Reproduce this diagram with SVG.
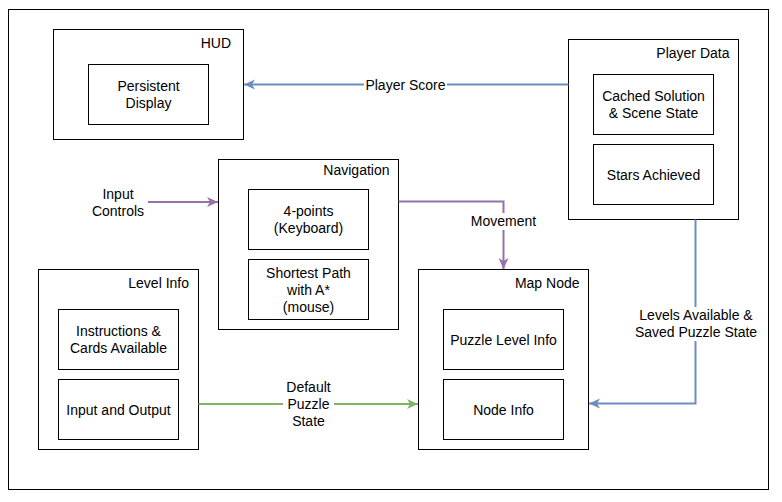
<svg xmlns="http://www.w3.org/2000/svg" width="782" height="502" viewBox="0 0 782 502">
<style>
.box{fill:#fff;stroke:#000;stroke-width:1}
.t{font-family:"Liberation Sans",Arial,sans-serif;font-size:14px;fill:#000}
.c{text-anchor:middle}
.e{text-anchor:end}
.edge{fill:none;stroke-width:2}
.lbl{fill:#fff}
</style>
<defs>
<marker id="ab" markerUnits="userSpaceOnUse" markerWidth="12" markerHeight="12" refX="11" refY="6" orient="auto" viewBox="0 0 12 12"><path d="M0,1 L11,6 L0,11 L3,6 z" fill="#6c8ebf"/></marker>
<marker id="ap" markerUnits="userSpaceOnUse" markerWidth="12" markerHeight="12" refX="11" refY="6" orient="auto" viewBox="0 0 12 12"><path d="M0,1 L11,6 L0,11 L3,6 z" fill="#9673a6"/></marker>
<marker id="ag" markerUnits="userSpaceOnUse" markerWidth="12" markerHeight="12" refX="11" refY="6" orient="auto" viewBox="0 0 12 12"><path d="M0,1 L11,6 L0,11 L3,6 z" fill="#82b366"/></marker>
</defs>
<rect width="782" height="502" fill="#fff"/>
<rect id="frame" class="box" x="8.5" y="9.5" width="760" height="480"/>

<g id="hud">
<rect class="box" x="53.5" y="29.5" width="190" height="110"/>
<text class="t e" x="231" y="47.5">HUD</text>
</g>
<g id="persistent-display">
<rect class="box" x="88.5" y="64.5" width="120" height="60"/>
<text class="t c" x="148.5" y="91">Persistent</text>
<text class="t c" x="148.5" y="108">Display</text>
</g>

<g id="player-data">
<rect class="box" x="568.5" y="39.5" width="170" height="180"/>
<text class="t e" x="729.5" y="57.5">Player Data</text>
</g>
<g id="cached-solution">
<rect class="box" x="593.5" y="74.5" width="120" height="60"/>
<text class="t c" x="653.5" y="101">Cached Solution</text>
<text class="t c" x="653.5" y="118">&amp; Scene State</text>
</g>
<g id="stars-achieved">
<rect class="box" x="593.5" y="144.5" width="120" height="60"/>
<text class="t c" x="653.5" y="179.5">Stars Achieved</text>
</g>

<g id="navigation">
<rect class="box" x="218.5" y="159.5" width="180" height="170"/>
<text class="t e" x="389.5" y="174.5">Navigation</text>
</g>
<g id="four-points">
<rect class="box" x="248.5" y="189.5" width="120" height="60"/>
<text class="t c" x="308.5" y="216">4-points</text>
<text class="t c" x="308.5" y="233">(Keyboard)</text>
</g>
<g id="shortest-path">
<rect class="box" x="248.5" y="259.5" width="120" height="60"/>
<text class="t c" x="308.5" y="277.5">Shortest Path</text>
<text class="t c" x="308.5" y="294.5">with A*</text>
<text class="t c" x="308.5" y="311.5">(mouse)</text>
</g>

<g id="level-info">
<rect class="box" x="38.5" y="269.5" width="160" height="180"/>
<text class="t e" x="189" y="287.5">Level Info</text>
</g>
<g id="instructions">
<rect class="box" x="58.5" y="309.5" width="120" height="60"/>
<text class="t c" x="118.5" y="336">Instructions &amp;</text>
<text class="t c" x="118.5" y="353">Cards Available</text>
</g>
<g id="input-output">
<rect class="box" x="58.5" y="379.5" width="120" height="60"/>
<text class="t c" x="118.5" y="414.5">Input and Output</text>
</g>

<g id="map-node">
<rect class="box" x="418.5" y="269.5" width="170" height="180"/>
<text class="t e" x="579.5" y="287.5">Map Node</text>
</g>
<g id="puzzle-level-info">
<rect class="box" x="443.5" y="309.5" width="120" height="60"/>
<text class="t c" x="503.5" y="344.5">Puzzle Level Info</text>
</g>
<g id="node-info">
<rect class="box" x="443.5" y="379.5" width="120" height="60"/>
<text class="t c" x="503.5" y="414.5">Node Info</text>
</g>

<g id="input-controls">
<text class="t c" x="118" y="198.5">Input</text>
<text class="t c" x="118" y="215.5">Controls</text>
</g>

<g id="connectors">
<path class="edge" stroke="#6c8ebf" d="M568.5,84.5 L244,84.5" marker-end="url(#ab)"/>
<rect class="lbl" x="364" y="76" width="83" height="17"/>
<text class="t c" x="405.5" y="89.5">Player Score</text>

<path class="edge" stroke="#9673a6" d="M148,202 L218,202" marker-end="url(#ap)"/>

<path class="edge" stroke="#9673a6" d="M398.5,201.5 L503.5,201.5 L503.5,269" marker-end="url(#ap)"/>
<rect class="lbl" x="470" y="213" width="67" height="17"/>
<text class="t c" x="503.5" y="226">Movement</text>

<path class="edge" stroke="#82b366" d="M198.5,404 L418,404" marker-end="url(#ag)"/>
<rect class="lbl" x="283" y="380" width="51" height="50"/>
<text class="t c" x="308.5" y="392">Default</text>
<text class="t c" x="308.5" y="409">Puzzle</text>
<text class="t c" x="308.5" y="426">State</text>

<path class="edge" stroke="#6c8ebf" d="M695.5,219.5 L695.5,403.5 L589,403.5" marker-end="url(#ab)"/>
<rect class="lbl" x="636" y="307" width="121" height="34"/>
<text class="t c" x="696" y="320">Levels Available &amp;</text>
<text class="t c" x="696" y="337">Saved Puzzle State</text>
</g>
</svg>
